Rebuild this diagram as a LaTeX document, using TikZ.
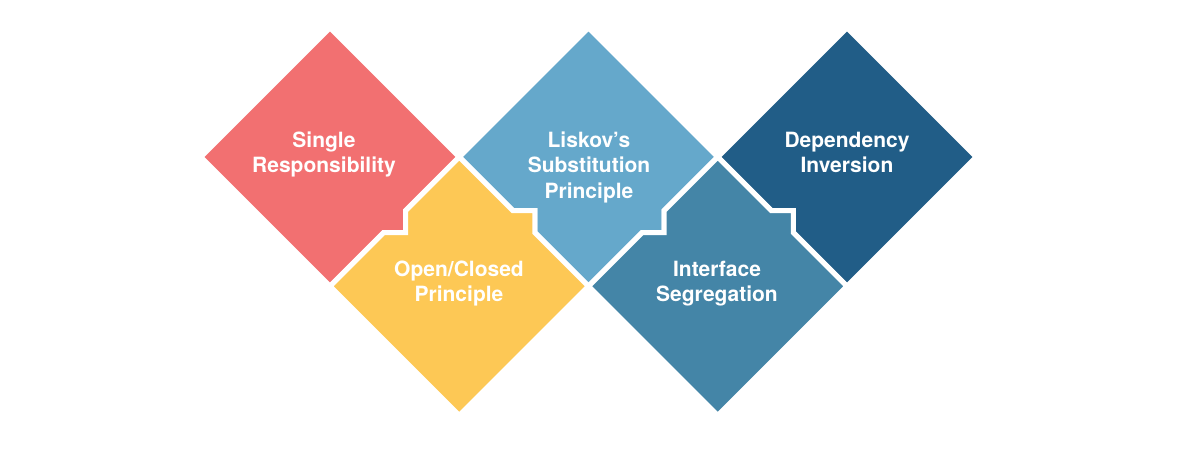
\documentclass[tikz,border=0pt]{standalone}
\usepackage{fontspec}
\setmainfont{TeX Gyre Heros}
\usetikzlibrary{calc}
\definecolor{cRed}{RGB}{242,112,113}
\definecolor{cYellow}{RGB}{253,200,85}
\definecolor{cLightBlue}{RGB}{101,168,203}
\definecolor{cMidBlue}{RGB}{68,133,167}
\definecolor{cDarkBlue}{RGB}{33,93,135}
\begin{document}
\begin{tikzpicture}[x=1pt,y=-1pt,
  piece/.style={draw=white,line width=5pt,line join=miter},
  lbl/.style={text=white,align=center,inner sep=0pt,anchor=north,
    font=\fontsize{21}{25.5}\selectfont\bfseries}]
\useasboundingbox[fill=white] (0,0) rectangle (1179,451);
\def\H{129.25}\def\h{64.625}\def\l{11}
\coordinate (R) at (330,157);
\coordinate (B) at (588.5,157);
\coordinate (D) at (847,157);
\coordinate (Y) at (459.25,286.25);
\coordinate (M) at (717.75,286.25);
% upper pieces
\path[piece,fill=cRed] ($(R)+(0,-\H)$) -- ($(R)+(\H,0)$) -- ($(R)+(\h+\l,\h-\l)$) -- ($(R)+(\h+\l,\h+\l)$) -- ($(R)+(\h-\l,\h+\l)$) -- ($(R)+(0,\H)$) -- ($(R)+(-\H,0)$) -- cycle;
\path[piece,fill=cLightBlue] ($(B)+(0,-\H)$) -- ($(B)+(\H,0)$) -- ($(B)+(\h+\l,\h-\l)$) -- ($(B)+(\h+\l,\h+\l)$) -- ($(B)+(\h-\l,\h+\l)$) -- ($(B)+(0,\H)$) -- ($(B)+(-\h+\l,\h+\l)$) -- ($(B)+(-\h+\l,\h-\l)$) -- ($(B)+(-\h-\l,\h-\l)$) -- ($(B)+(-\H,0)$) -- cycle;
\path[piece,fill=cDarkBlue] ($(D)+(0,-\H)$) -- ($(D)+(\H,0)$) -- ($(D)+(0,\H)$) -- ($(D)+(-\h+\l,\h+\l)$) -- ($(D)+(-\h+\l,\h-\l)$) -- ($(D)+(-\h-\l,\h-\l)$) -- ($(D)+(-\H,0)$) -- cycle;
% lower pieces
\path[piece,fill=cYellow] ($(Y)+(0,-\H)$) -- ($(Y)+(\h-\l,-\h-\l)$) -- ($(Y)+(\h+\l,-\h-\l)$) -- ($(Y)+(\h+\l,-\h+\l)$) -- ($(Y)+(\H,0)$) -- ($(Y)+(0,\H)$) -- ($(Y)+(-\H,0)$) -- ($(Y)+(-\h-\l,-\h+\l)$) -- ($(Y)+(-\h+\l,-\h+\l)$) -- ($(Y)+(-\h+\l,-\h-\l)$) -- cycle;
\path[piece,fill=cMidBlue] ($(M)+(0,-\H)$) -- ($(M)+(\h-\l,-\h-\l)$) -- ($(M)+(\h+\l,-\h-\l)$) -- ($(M)+(\h+\l,-\h+\l)$) -- ($(M)+(\H,0)$) -- ($(M)+(0,\H)$) -- ($(M)+(-\H,0)$) -- ($(M)+(-\h-\l,-\h+\l)$) -- ($(M)+(-\h+\l,-\h+\l)$) -- ($(M)+(-\h+\l,-\h-\l)$) -- cycle;
% labels
\node[lbl] (tSRP) at (324,129) {\strut Single\\Responsibility};
\node[lbl] (tOCP) at (459,258) {\strut Open/Closed\\Principle};
\node[lbl] (tLSP) at (589,129) {\strut Liskov’s\\Substitution\\Principle};
\node[lbl] (tISP) at (717,258) {\strut Interface\\Segregation};
\node[lbl] (tDIP) at (847,129) {\strut Dependency\\Inversion};
\end{tikzpicture}
\end{document}
